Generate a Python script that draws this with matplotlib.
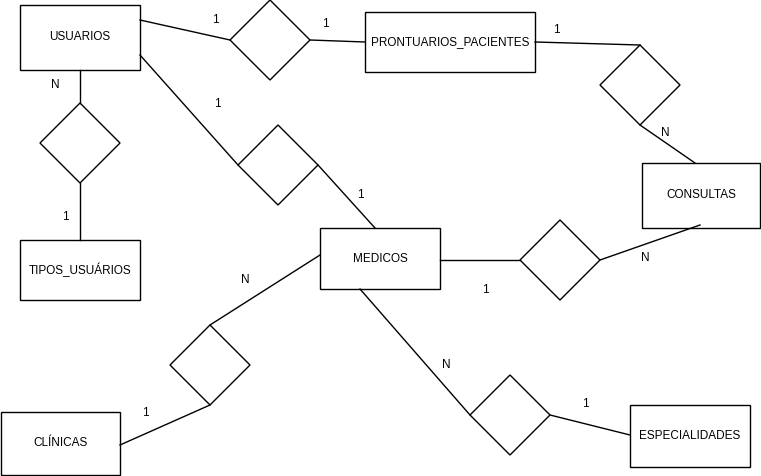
import matplotlib.pyplot as plt
from matplotlib.patches import Rectangle, Polygon

# entities: name, left, top, width, height (pixel space of the diagram)
entity_names = ["USUARIOS", "PRONTUARIOS_PACIENTES", "CONSULTAS", "TIPOS_USUÁRIOS",
                "MEDICOS", "CLÍNICAS", "ESPECIALIDADES"]
entity_boxes = [(20, 5, 120, 65), (365, 12, 170, 60), (642, 163, 118, 65),
                (20, 240, 120, 60), (320, 228, 120, 61), (1, 412, 119, 63),
                (630, 405, 120, 62)]

# relationship diamonds: centre x, centre y
diamonds = [(270, 40), (80, 143), (278, 165), (640, 85), (560, 260), (210, 365), (510, 415)]
DHALF = 40

# connecting lines
links = [((140, 20), (230, 40)), ((310, 40), (365, 42)),
         ((80, 70), (80, 103)), ((80, 183), (80, 240)),
         ((140, 55), (238, 165)), ((318, 165), (375, 228)),
         ((535, 42), (640, 45)), ((640, 125), (695, 163)),
         ((440, 260), (520, 260)), ((600, 260), (700, 225)),
         ((320, 255), (210, 325)), ((210, 405), (120, 445)),
         ((360, 289), (470, 415)), ((550, 415), (630, 435))]

# cardinalities
card_text = ["1", "1", "1", "1", "1", "1", "1", "1", "1", "N", "N", "N", "N", "N"]
card_pos = [(215, 20), (325, 24), (217, 104), (360, 195), (556, 30), (65, 217),
            (485, 290), (145, 413), (585, 404), (55, 85), (665, 133),
            (645, 258), (245, 280), (446, 365)]

plt.rcParams['font.family'] = ['Liberation Sans', 'DejaVu Sans']
fig = plt.figure(figsize=(7.61, 4.76), dpi=100)
ax = fig.add_axes([0, 0, 1, 1])
ax.set_xlim(0, 761)
ax.set_ylim(476, 0)
ax.axis('off')

for (a, b) in links:
    ax.plot([a[0], b[0]], [a[1], b[1]], color='black', lw=1)

for name, (x, y, w, h) in zip(entity_names, entity_boxes):
    ax.add_patch(Rectangle((x, y), w, h, facecolor='white', edgecolor='black', lw=1))
    ax.text(x + w / 2, y + h / 2, name, ha='center', va='center', fontsize=8.5)

for cx, cy in diamonds:
    pts = [(cx - DHALF, cy), (cx, cy - DHALF), (cx + DHALF, cy), (cx, cy + DHALF)]
    ax.add_patch(Polygon(pts, closed=True, facecolor='white', edgecolor='black', lw=1))

for t, (x, y) in zip(card_text, card_pos):
    ax.text(x, y, t, ha='center', va='center', fontsize=8.5)

plt.savefig("out.png", dpi=100)
